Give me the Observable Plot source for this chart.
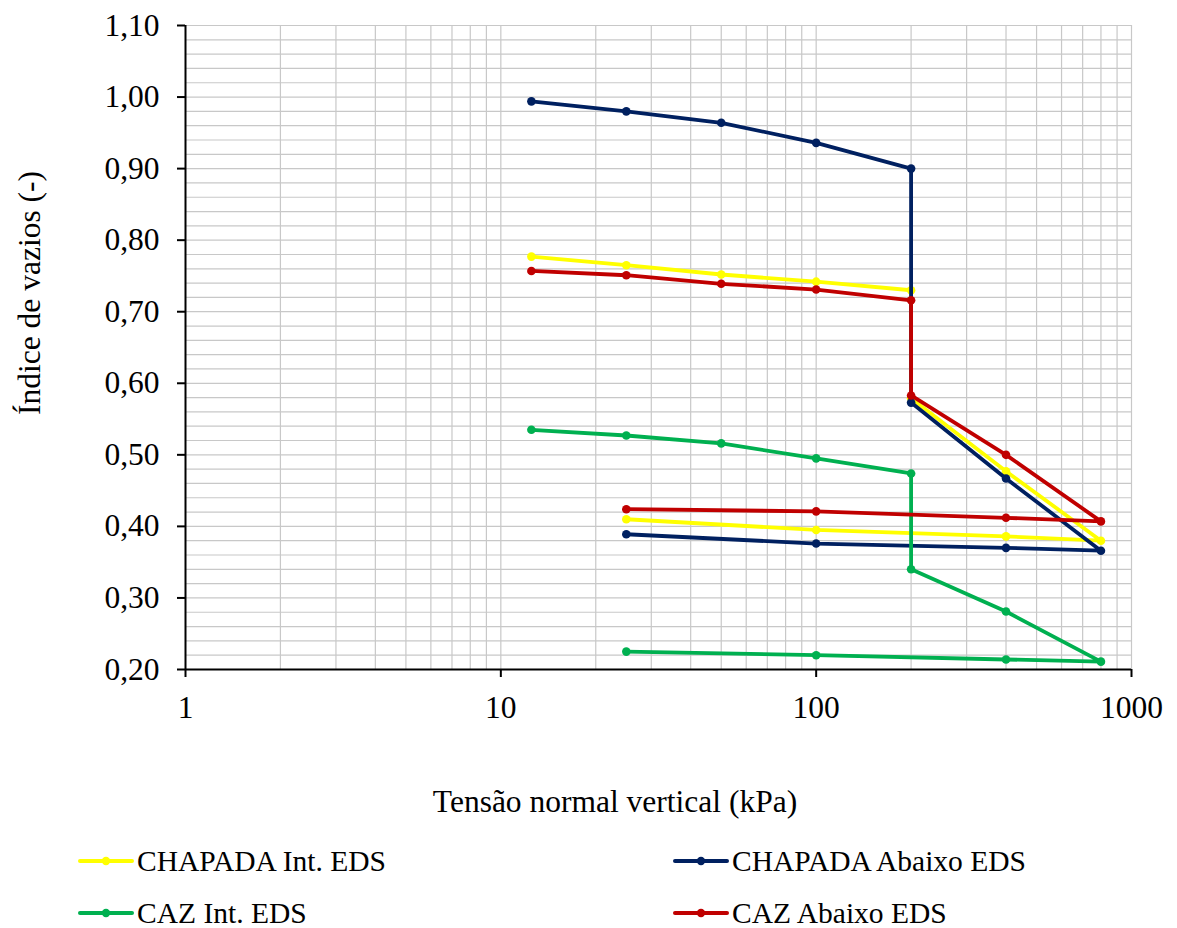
<!DOCTYPE html>
<html>
<head>
<meta charset="utf-8">
<script src="https://cdn.jsdelivr.net/npm/d3@7"></script>
<script src="https://cdn.jsdelivr.net/npm/@observablehq/plot@0.6"></script>
<style>
  html, body { margin: 0; padding: 0; background: #fff; }
  #wrap { position: relative; width: 1177px; height: 928px; font-family: "Liberation Serif", "Times New Roman", serif; color: #000; }
  #chart { position: absolute; left: 0; top: 0; }
  .ytitle { position: absolute; left: 30px; top: 293px; transform: translate(-50%, -50%) rotate(-90deg); font-size: 31.5px; white-space: nowrap; }
  .xtitle { position: absolute; left: 615px; top: 802px; transform: translate(-50%, -50%); font-size: 31.5px; white-space: nowrap; }
  .leg { position: absolute; display: flex; align-items: center; font-size: 29.5px; white-space: nowrap; }
  .leg svg { margin-right: 3px; }
</style>
</head>
<body>
<div id="wrap">
  <div id="chart"></div>
  <div class="ytitle">Índice de vazios (-)</div>
  <div class="xtitle">Tensão normal vertical (kPa)</div>
  <div id="legend"></div>
</div>
<script>
// Stress sequence (kPa): loading, collapse at 200 (flooding), loading, unloading
const tensao = [12.5, 25, 50, 100, 200, 200, 400, 800, 400, 100, 25];

const seriesNames = ["CHAPADA Int. EDS", "CHAPADA Abaixo EDS", "CAZ Int. EDS", "CAZ Abaixo EDS"];
const seriesColors = ["#FFFF00", "#002060", "#00B050", "#C00000"];

const chapadaInt    = [0.777, 0.765, 0.752, 0.742, 0.730, 0.579, 0.477, 0.380, 0.386, 0.395, 0.410];
const chapadaAbaixo = [0.994, 0.980, 0.964, 0.936, 0.900, 0.573, 0.467, 0.366, 0.370, 0.376, 0.389];
const cazInt        = [0.535, 0.527, 0.516, 0.495, 0.474, 0.340, 0.281, 0.211, 0.214, 0.220, 0.225];
const cazAbaixo     = [0.757, 0.751, 0.739, 0.731, 0.716, 0.583, 0.500, 0.407, 0.412, 0.421, 0.424];

const seriesValues = [chapadaInt, chapadaAbaixo, cazInt, cazAbaixo];

const xTicks = [1, 10, 100, 1000];
const yTicks = [0.2, 0.3, 0.4, 0.5, 0.6, 0.7, 0.8, 0.9, 1.0, 1.1];
const xGrid = [2,3,4,5,6,7,8,9,10,20,30,40,50,60,70,80,90,100,200,300,400,500,600,700,800,900,1000];
const yGrid = [0.22,0.24,0.26,0.28,0.30,0.32,0.34,0.36,0.38,0.40,0.42,0.44,0.46,0.48,0.50,0.52,0.54,0.56,0.58,0.60,0.62,0.64,0.66,0.68,0.70,0.72,0.74,0.76,0.78,0.80,0.82,0.84,0.86,0.88,0.90,0.92,0.94,0.96,0.98,1.00,1.02,1.04,1.06,1.08,1.10];

const rows = [];
seriesNames.forEach((name, si) => {
  tensao.forEach((t, i) => rows.push({serie: name, order: si, x: t, y: seriesValues[si][i]}));
});

const seriesMarks = [];
seriesNames.forEach((name, si) => {
  const d = rows.filter(r => r.serie === name);
  seriesMarks.push(Plot.line(d, {x: "x", y: "y", stroke: seriesColors[si], strokeWidth: 3.8}));
  seriesMarks.push(Plot.dot(d, {x: "x", y: "y", r: 4.3, fill: seriesColors[si], stroke: "none"}));
});

const fmtY = d => d.toFixed(2).replace(".", ",");

const chart = Plot.plot({
  width: 1177,
  height: 760,
  marginLeft: 185,
  marginRight: 46,
  marginTop: 25,
  marginBottom: 91,
  style: {fontFamily: "'Liberation Serif', 'Times New Roman', serif", fontSize: "31.5px", color: "#000", background: "#fff"},
  x: {type: "log", domain: [1, 1000], ticks: xTicks, tickFormat: d => String(d), tickSize: 8, tickPadding: 18, label: null},
  y: {domain: [0.2, 1.1], ticks: yTicks, tickFormat: fmtY, tickSize: 8, tickPadding: 18, label: null},
  marks: [
    Plot.ruleX(xGrid, {stroke: "#c8c8c8", strokeWidth: 1.2}),
    Plot.ruleY(yGrid, {stroke: "#c8c8c8", strokeWidth: 1.2}),
    Plot.axisX({ticks: xTicks, tickFormat: d => String(d), tickSize: 8, tickPadding: 18, label: null, strokeWidth: 2}),
    Plot.axisY({ticks: yTicks, tickFormat: fmtY, tickSize: 8, tickPadding: 18, label: null, strokeWidth: 2}),
    Plot.ruleY([0.2], {stroke: "#000", strokeWidth: 2}),
    Plot.ruleX([1], {stroke: "#000", strokeWidth: 2}),
    ...seriesMarks
  ]
});
document.getElementById("chart").appendChild(chart);

// Legend
const legPos = [
  {left: 78, top: 861},
  {left: 673, top: 861},
  {left: 78, top: 913},
  {left: 673, top: 913}
];
const legend = document.getElementById("legend");
seriesNames.forEach((name, i) => {
  const div = document.createElement("div");
  div.className = "leg";
  div.style.left = legPos[i].left + "px";
  div.style.top = (legPos[i].top - 20) + "px";
  div.style.height = "40px";
  const c = seriesColors[i];
  div.innerHTML = `<svg width="56" height="12"><line x1="2" y1="6" x2="54" y2="6" stroke="${c}" stroke-width="4" stroke-linecap="round"/><circle cx="28" cy="6" r="4.2" fill="${c}"/></svg><span>${name}</span>`;
  legend.appendChild(div);
});
</script>
</body>
</html>
